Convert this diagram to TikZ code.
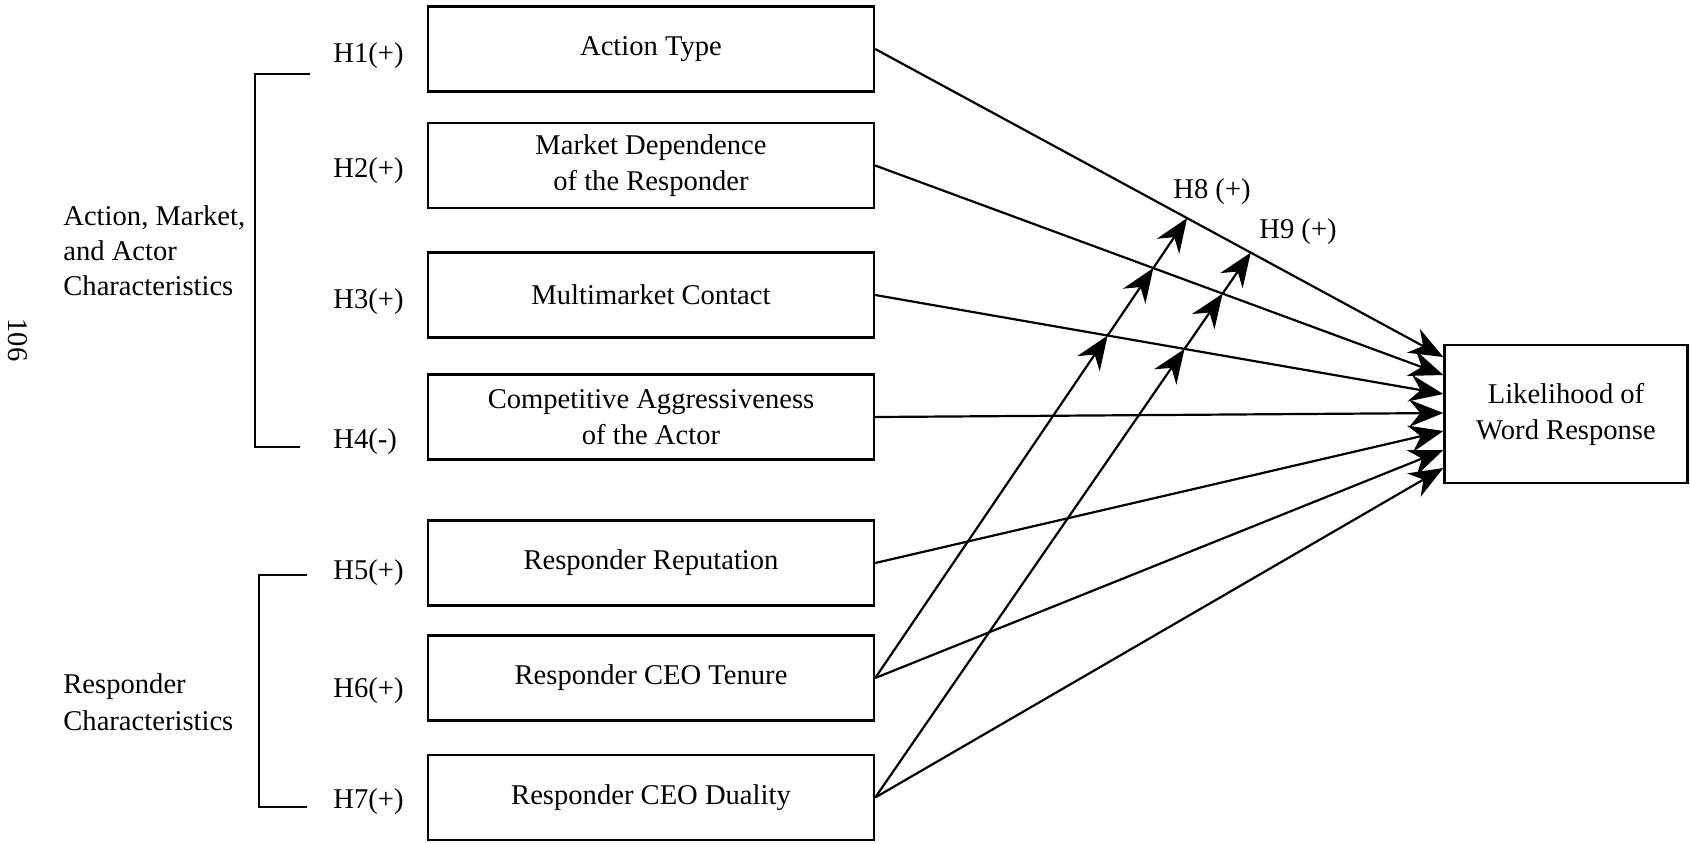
\documentclass[tikz,border=0pt]{standalone}
\usepackage{fontspec}
\setmainfont{Liberation Serif}
\usetikzlibrary{calc,arrows.meta}
\begin{document}
\begin{tikzpicture}[x=0.5pt,y=-0.5pt,
  every node/.style={font=\fontsize{14.3pt}{18pt}\selectfont},
  box/.style={draw, line width=1.2pt, minimum width=223pt, minimum height=42.5pt, align=center, inner sep=0pt},
  hlab/.style={anchor=base west, inner sep=0pt},
  grp/.style={anchor=base west, inner sep=0pt, align=left},
  brk/.style={line width=1pt},
  arr/.style={line width=1.1pt, -{Stealth[length=17pt,width=13.5pt,inset=5.5pt]}}]
\useasboundingbox (0,0) rectangle (1690,843);

% boxes
\node[box] (b1) at (651,49) {Action Type};
\node[box] (b2) at (651,165.5) {Market Dependence\\of the Responder};
\node[box] (b3) at (651,295) {Multimarket Contact};
\node[box] (b4) at (651,417) {Competitive Aggressiveness\\of the Actor};
\node[box] (b5) at (651,563) {Responder Reputation};
\node[box] (b6) at (651,678) {Responder CEO Tenure};
\node[box] (b7) at (651,797.5) {Responder CEO Duality};
\node[draw, line width=1.2pt, minimum width=121.5pt, minimum height=69pt, align=center, inner sep=0pt] (lwr) at (1566,414) {Likelihood of\\Word Response};

% hypothesis labels
\node[hlab] (h1) at (333,62) {H1(+)};
\node[hlab] (h2) at (333,177) {H2(+)};
\node[hlab] (h3) at (333,308) {H3(+)};
\node[hlab] (h4) at (333,448) {H4(-)};
\node[hlab] (h5) at (333,579) {H5(+)};
\node[hlab] (h6) at (333,697) {H6(+)};
\node[hlab] (h7) at (333,808) {H7(+)};

% group labels (base = last line)
\node[grp, font=\fontsize{14.3pt}{17.5pt}\selectfont] (g1) at (63,295) {Action, Market,\\and Actor\\Characteristics};
\node[grp, font=\fontsize{14.3pt}{18.5pt}\selectfont] (g2) at (63,730) {Responder\\Characteristics};
\node[rotate=-90] (pg) at (18,340) {106};

% brackets
\draw[brk] (310,74) -- (255,74) -- (255,447) -- (300,447);
\draw[brk] (307,575) -- (259,575) -- (259,807) -- (307,807);

% target points
\coordinate (t1) at ([yshift=28.5pt]lwr.west);
\coordinate (t2) at ([yshift=19.5pt]lwr.west);
\coordinate (t3) at ([yshift=10pt]lwr.west);
\coordinate (t4) at ([yshift=0.5pt]lwr.west);
\coordinate (t5) at ([yshift=-8.5pt]lwr.west);
\coordinate (t6) at ([yshift=-18pt]lwr.west);
\coordinate (t7) at ([yshift=-27pt]lwr.west);

\foreach \i in {1,...,7} {\draw[arr] (b\i.east) -- (t\i);}

% moderator end points on the first arrow
\coordinate (m8) at ($(b1.east)!0.549!(t1)$);
\coordinate (m9) at ($(b1.east)!0.661!(t1)$);
\coordinate (x83) at (intersection of b6.east--m8 and b3.east--t3);
\coordinate (x82) at (intersection of b6.east--m8 and b2.east--t2);
\coordinate (x93) at (intersection of b7.east--m9 and b3.east--t3);
\coordinate (x92) at (intersection of b7.east--m9 and b2.east--t2);

\draw[arr] (b6.east) -- (x83);
\draw[arr] (x83) -- (x82);
\draw[arr] (x82) -- (m8);
\draw[arr] (b7.east) -- (x93);
\draw[arr] (x93) -- (x92);
\draw[arr] (x92) -- (m9);

\node (l8) at (1212,192) {H8 (+)};
\node (l9) at (1298,232) {H9 (+)};
\end{tikzpicture}
\end{document}
